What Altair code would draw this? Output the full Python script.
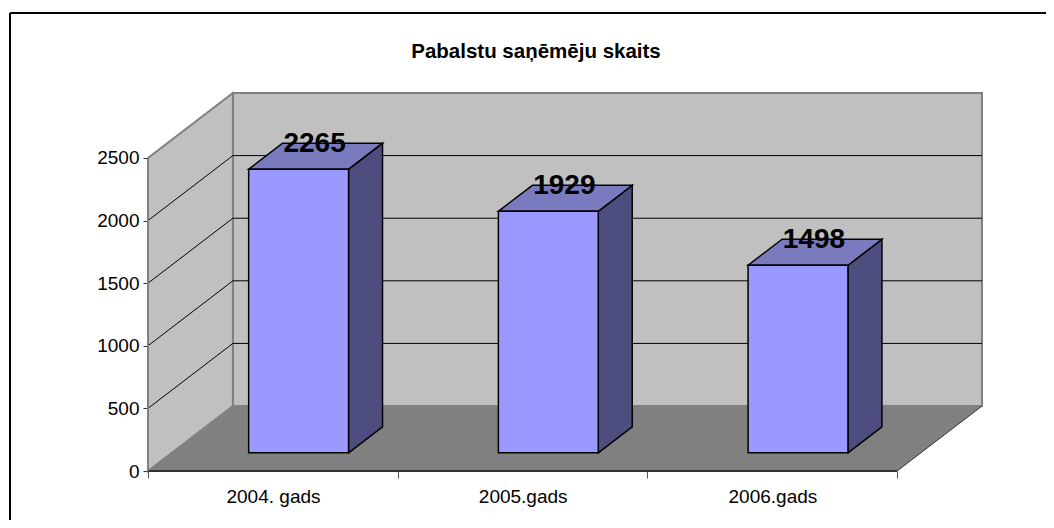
import altair as alt
import pandas as pd

# ---- values ----
categories = ["2004. gads", "2005.gads", "2006.gads"]
values = [2265, 1929, 1498]
y_ticks = [0, 500, 1000, 1500, 2000, 2500]
grid_levels = [500, 1000, 1500, 2000]
x_ticks = [0, 1, 2, 3]
title_text = "Pabalstu saņēmēju skaits"

# oblique projection of the 3-D box, in data units
DX = 0.34        # x shift for full depth (categories)
DY = 519.0       # y shift for full depth (value units)
BAR_W = 0.40     # bar width in categories
BAR_SHIFT = 0.008
D0, D1 = 0.28, 0.68  # bar front and back depth
NCAT = 3
YMAX = 2500
PW, PH = 834, 378


def px(x, d):
    return x + d * DX


def py(v, d):
    return v + d * DY


floor = pd.DataFrame({
    "y": [py(0, 0), py(0, 1)],
    "xa": [px(0, 0), px(0, 1)],
    "xb": [px(NCAT, 0), px(NCAT, 1)],
})
back = pd.DataFrame({"x": [px(0, 1)], "x2": [px(NCAT, 1)], "y": [py(0, 1)], "y2": [py(YMAX, 1)]})
side = pd.DataFrame({
    "x": [px(0, 0), px(0, 1)],
    "ya": [py(0, 0), py(0, 1)],
    "yb": [py(YMAX, 0), py(YMAX, 1)],
})
grid_rows = []
for v in grid_levels:
    grid_rows += [
        {"g": v, "o": 0, "x": px(0, 0), "y": py(v, 0)},
        {"g": v, "o": 1, "x": px(0, 1), "y": py(v, 1)},
        {"g": v, "o": 2, "x": px(NCAT, 1), "y": py(v, 1)},
    ]
grid = pd.DataFrame(grid_rows)
floor_edge = pd.DataFrame({"x": [px(NCAT, 0), px(NCAT, 1)], "y": [py(0, 0), py(0, 1)]})

fronts, sides, tops, labels = [], [], [], []
for i, (c, v) in enumerate(zip(categories, values)):
    xc = i + 0.5 + BAR_SHIFT
    x0 = xc - BAR_W / 2
    x1 = xc + BAR_W / 2
    fronts.append({"x": px(x0, D0), "x2": px(x1, D0), "y": py(0, D0), "y2": py(v, D0)})
    sides += [
        {"b": i, "x": px(x1, D0), "ya": py(0, D0), "yb": py(v, D0)},
        {"b": i, "x": px(x1, D1), "ya": py(0, D1), "yb": py(v, D1)},
    ]
    tops += [
        {"b": i, "y": py(v, D0), "xa": px(x0, D0), "xb": px(x1, D0)},
        {"b": i, "y": py(v, D1), "xa": px(x0, D1), "xb": px(x1, D1)},
    ]
    labels.append({"x": px(xc, (D0 + D1) / 2), "y": py(v, (D0 + D1) / 2), "t": str(v)})

X = alt.Scale(domain=[0, NCAT + DX], nice=False, zero=False)
Y = alt.Scale(domain=[0, YMAX + DY], nice=False, zero=False)
FONT = "Liberation Sans"
label_js = str(categories + [""])

X_AX = alt.Axis(
    title=None, values=x_ticks, grid=False, domain=False, tickColor="#555555", tickSize=7,
    labelOffset=125, labelPadding=9, labelFont=FONT, labelFontSize=19,
    labelColor="#000000", labelOverlap=False, labelFlush=False, labelBound=False,
    labelExpr=f"{label_js}[datum.value]")
Y_AX = alt.Axis(
    title=None, values=y_ticks, grid=False, domain=False, tickColor="#333333", tickSize=5,
    labelPadding=4, labelFont=FONT, labelFontSize=19, labelColor="#000000",
    labelOverlap=False, labelFlush=False, labelBound=False, format="d")


def ex(f):
    return alt.X(f, scale=X, axis=X_AX)


def ey(f):
    return alt.Y(f, scale=Y, axis=Y_AX)


xq = ex("x:Q")
yq = ey("y:Q")

floor_l = alt.Chart(floor).mark_area(orient="horizontal", color="#808080").encode(
    y=yq, x=ex("xa:Q"), x2="xb:Q")
back_l = alt.Chart(back).mark_rect(color="#C0C0C0", stroke="#808080", strokeWidth=2).encode(
    x=xq, x2="x2:Q", y=yq, y2="y2:Q")
side_l = alt.Chart(side).mark_area(orient="vertical", color="#C0C0C0", stroke="#808080", strokeWidth=2).encode(
    x=xq, y=ey("ya:Q"), y2="yb:Q")
grid_l = alt.Chart(grid).mark_line(color="#000000", strokeWidth=1).encode(
    x=xq, y=yq, detail="g:N", order="o:Q")
edge_l = alt.Chart(floor_edge).mark_line(color="#333333", strokeWidth=1).encode(x=xq, y=yq)
base_l = alt.Chart(pd.DataFrame({"x": [0], "x2": [NCAT], "y": [0]})).mark_rule(
    color="#333333", strokeWidth=2).encode(x=xq, x2="x2:Q", y=yq)
left_l = alt.Chart(pd.DataFrame({"x": [0], "y": [0], "y2": [YMAX]})).mark_rule(
    color="#808080", strokeWidth=2).encode(x=xq, y=yq, y2="y2:Q")

top_l = alt.Chart(pd.DataFrame(tops)).mark_area(
    orient="horizontal", color="#7A7ABF", stroke="#000000", strokeWidth=1.5).encode(
    y=yq, x=ex("xa:Q"), x2="xb:Q", detail="b:N")
side_b = alt.Chart(pd.DataFrame(sides)).mark_area(
    orient="vertical", color="#4D4D80", stroke="#000000", strokeWidth=1.5).encode(
    x=xq, y=ey("ya:Q"), y2="yb:Q", detail="b:N")
front_l = alt.Chart(pd.DataFrame(fronts)).mark_rect(
    color="#9999FF", stroke="#000000", strokeWidth=1.5).encode(x=xq, x2="x2:Q", y=yq, y2="y2:Q")
text_l = alt.Chart(pd.DataFrame(labels)).mark_text(
    font=FONT, fontSize=28, fontWeight="bold", color="#000000", baseline="middle", align="center",
    dy=-12, dx=-1).encode(x=xq, y=yq, text="t:N")

one = pd.DataFrame({"a": [0]})
frame_top = alt.Chart(one).mark_rule(color="#000000", strokeWidth=2).encode(
    x=alt.value(-138), x2=alt.value(906), y=alt.value(-80))
frame_left = alt.Chart(one).mark_rule(color="#000000", strokeWidth=2).encode(
    x=alt.value(-138), y=alt.value(-80), y2=alt.value(435))
title_l = alt.Chart(pd.DataFrame({"t": [title_text]})).mark_text(
    font=FONT, fontSize=20.5, fontWeight="bold", color="#000000", align="center", baseline="middle").encode(
    x=alt.value(388), y=alt.value(-41), text="t:N")

chart = alt.layer(
    frame_top, frame_left, title_l, back_l, floor_l, side_l, grid_l, edge_l, left_l, base_l,
    side_b, top_l, front_l, text_l,
).properties(
    width=PW,
    height=PH,
    padding={"left": 140, "top": 85, "right": 64, "bottom": 49},
    autosize=alt.AutoSizeParams(type="none"),
    background="#FFFFFF",
).configure_view(stroke=None)

chart.save("out.html", embed_options={"renderer": "svg", "actions": False})
